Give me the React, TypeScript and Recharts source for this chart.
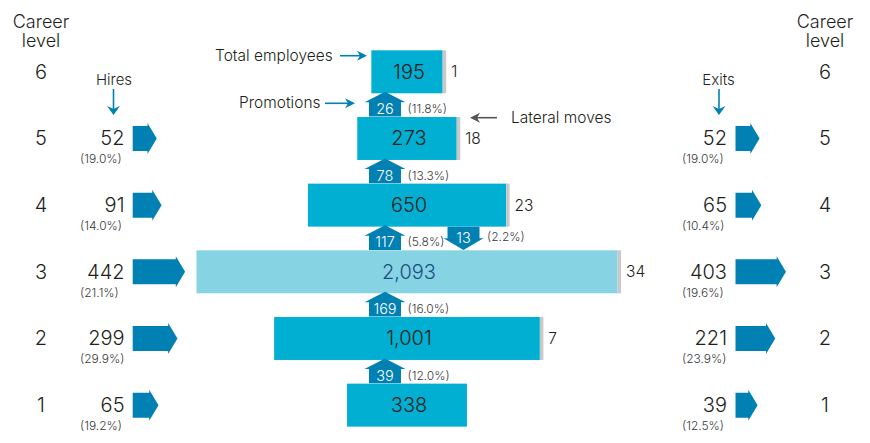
import { ComposedChart, Bar, XAxis, YAxis } from "recharts";

// career levels, top to bottom
const levels = [6, 5, 4, 3, 2, 1];
const employees = [195, 273, 650, 2093, 1001, 338];
const lateralMoves = [1, 18, 23, 34, 7, 0];
const hires = [null, 52, 91, 442, 299, 65];
const hiresPct = ["", "19.0%", "14.0%", "21.1%", "29.9%", "19.2%"];
const exits = [null, 52, 65, 403, 221, 39];
const exitsPct = ["", "19.0%", "10.4%", "19.6%", "23.9%", "12.5%"];
// promotions into a level from the level below
const promotions = [26, 78, 117, 169, 39, null];
const promotionsPct = ["11.8%", "13.3%", "5.8%", "16.0%", "12.0%", ""];
// moves down to the level below
const demotions = [null, null, 13, null, null, null];
const demotionsPct = ["", "", "2.2%", "", "", ""];

const highlightLevel = 3;

const rows = levels.map((level, i) => ({
  level,
  employees: employees[i],
  lateral: lateralMoves[i],
  hires: hires[i],
  hiresPct: hiresPct[i],
  exits: exits[i],
  exitsPct: exitsPct[i],
  promo: promotions[i],
  promoPct: promotionsPct[i],
  demo: demotions[i],
  demoPct: demotionsPct[i],
}));

const TEXT = "#231f20";
const SUB = "#3a3a3a";
const CYAN = "#00afd1";
const LIGHT = "#86d3e4";
const ARROW = "#0080b3";
const GREY = "#c8c8c8";

const CX = 407; // centre line of the pyramid
const GAP = 23.3; // space between two rows of bars
const PX = 385; // promotion arrows
const DX = 463.5; // down moves
const HX = 132.7; // hires arrows start
const EX = 735.5; // exits arrows start

const CenterShape = (props: any) => {
  const { y, width, height, payload } = props;
  const x0 = CX - width / 2;
  const cy = y + height / 2;
  const hl = payload.level === highlightLevel;
  const bottom = y + height;
  return (
    <g>
      <rect x={x0} y={y} width={width} height={height} fill={hl ? LIGHT : CYAN} />
      {payload.lateral > 0 && (
        <>
          <rect x={x0 + width} y={y} width={3.5} height={height} fill={GREY} />
          <text x={x0 + width + 8.5} y={cy + 5.5} fontSize={15.5} fill={TEXT}>
            {payload.lateral}
          </text>
        </>
      )}
      <text x={CX + 2} y={cy + 7} textAnchor="middle" fontSize={20} fill={hl ? "#1c4e80" : TEXT}>
        {payload.employees.toLocaleString("en-US")}
      </text>
      {payload.promo != null && (
        <g>
          <polygon
            points={[
              [PX, bottom - 1.5],
              [PX + 20.5, bottom + 9],
              [PX + 16, bottom + 9],
              [PX + 16, bottom + GAP],
              [PX - 16, bottom + GAP],
              [PX - 16, bottom + 9],
              [PX - 20.5, bottom + 9],
            ].map((p) => p.join(",")).join(" ")}
            fill={ARROW}
          />
          <text x={PX} y={bottom + GAP - 2.5} textAnchor="middle" fontSize={14.5} fill="#fff">
            {payload.promo}
          </text>
          <text x={407.5} y={bottom + GAP - 3.5} fontSize={12} fill={SUB}>
            ({payload.promoPct})
          </text>
        </g>
      )}
      {payload.demo != null && (
        <g>
          <polygon
            points={[
              [DX - 16, bottom],
              [DX + 16, bottom],
              [DX + 16, bottom + GAP - 11.7],
              [DX + 20, bottom + GAP - 11.7],
              [DX, bottom + GAP],
              [DX - 20, bottom + GAP - 11.7],
              [DX - 16, bottom + GAP - 11.7],
            ].map((p) => p.join(",")).join(" ")}
            fill={ARROW}
          />
          <text x={DX} y={bottom + GAP - 7.4} textAnchor="middle" fontSize={14.5} fill="#fff">
            {payload.demo}
          </text>
          <text x={487} y={bottom + GAP - 9} fontSize={12} fill={SUB}>
            ({payload.demoPct})
          </text>
        </g>
      )}
    </g>
  );
};

const flowArrow = (x0: number, w: number, cy: number) => {
  const tip = 9.3;
  return [
    [x0, cy - 12.5],
    [x0 + w, cy - 12.5],
    [x0 + w, cy - 15.5],
    [x0 + w + tip, cy],
    [x0 + w, cy + 15.5],
    [x0 + w, cy + 12.5],
    [x0, cy + 12.5],
  ].map((p) => p.join(",")).join(" ");
};

const makeFlowShape = (key: "hires" | "exits", startX: number, valueX: number, pctX: number) => (props: any) => {
  const { y, width, height, payload } = props;
  if (payload[key] == null) return <g />;
  const cy = y + height / 2;
  return (
    <g>
      <polygon points={flowArrow(startX, width, cy)} fill={ARROW} />
      <text x={valueX} y={cy + 7} textAnchor="end" fontSize={20} fill={TEXT}>
        {payload[key]}
      </text>
      <text x={pctX} y={cy + 25} fontSize={12} fill={SUB}>
        ({payload[key + "Pct"]})
      </text>
    </g>
  );
};

const HireShape = makeFlowShape("hires", HX, 124.5, 80);
const ExitShape = makeFlowShape("exits", EX, 727, 682);

const levelTick = (cx: number) => (props: any) => (
  <text x={cx} y={props.y + 7} textAnchor="middle" fontSize={20} fill={TEXT}>
    {props.payload.value}
  </text>
);

const arrowRight = (x1: number, x2: number, y: number, color: string) => (
  <g>
    <line x1={x1} y1={y} x2={x2 - 4} y2={y} stroke={color} strokeWidth={1.6} />
    <polygon points={`${x2 - 10},${y - 5} ${x2},${y} ${x2 - 10},${y + 5} ${x2 - 7},${y}`} fill={color} />
  </g>
);

const arrowLeft = (x1: number, x2: number, y: number, color: string) => (
  <g>
    <line x1={x1} y1={y} x2={x2 + 4} y2={y} stroke={color} strokeWidth={1.6} />
    <polygon points={`${x2 + 10},${y - 5} ${x2},${y} ${x2 + 10},${y + 5} ${x2 + 7},${y}`} fill={color} />
  </g>
);

const arrowDown = (x: number, y1: number, y2: number, color: string) => (
  <g>
    <line x1={x} y1={y1} x2={x} y2={y2 - 4} stroke={color} strokeWidth={1.6} />
    <polygon points={`${x - 6.5},${y2 - 9} ${x},${y2} ${x + 6.5},${y2 - 9} ${x},${y2 - 6}`} fill={color} />
  </g>
);

export default function App() {
  return (
    <div
      style={{
        position: "fixed",
        left: 0,
        top: 0,
        width: 870,
        height: 443,
        background: "#fff",
        fontFamily: "Inter, sans-serif",
        fontWeight: 300,
      }}
    >
      <ComposedChart
        width={870}
        height={443}
        data={rows}
        layout="vertical"
        margin={{ top: 38.3, right: 0, bottom: 4.7, left: 0 }}
      >
        <XAxis xAxisId="c" type="number" scale="sqrt" domain={[56, 5031]} hide />
        <XAxis xAxisId="h" type="number" scale="sqrt" domain={[0, 115900]} hide />
        <XAxis xAxisId="e" type="number" scale="sqrt" domain={[0, 115900]} hide />
        <YAxis
          yAxisId="c"
          type="category"
          dataKey="level"
          orientation="left"
          width={82}
          axisLine={false}
          tickLine={false}
          tick={levelTick(41)}
        />
        <YAxis
          yAxisId="e"
          type="category"
          dataKey="level"
          orientation="right"
          width={90}
          axisLine={false}
          tickLine={false}
          tick={levelTick(825)}
        />
        <YAxis yAxisId="h" type="category" dataKey="level" hide />
        <Bar xAxisId="c" yAxisId="c" dataKey="employees" barSize={43} shape={CenterShape} isAnimationActive={false} />
        <Bar xAxisId="h" yAxisId="h" dataKey="hires" barSize={25} shape={HireShape} isAnimationActive={false} />
        <Bar xAxisId="e" yAxisId="e" dataKey="exits" barSize={25} shape={ExitShape} isAnimationActive={false} />
      </ComposedChart>
      <svg
        width={870}
        height={443}
        style={{ position: "absolute", left: 0, top: 0, pointerEvents: "none" }}
      >
        <g fontSize={18} fill={TEXT} textAnchor="middle">
          <text x={41} y={27.5}>Career</text>
          <text x={41} y={46.5}>level</text>
          <text x={825} y={27.5}>Career</text>
          <text x={825} y={46.5}>level</text>
        </g>
        <g fontSize={15} fill={TEXT}>
          <text x={114} y={85} textAnchor="middle">Hires</text>
          <text x={718.5} y={85} textAnchor="middle">Exits</text>
          <text x={215} y={60.7} fontSize={15.5}>Total employees</text>
          <text x={239} y={107.7} fontSize={15.5}>Promotions</text>
          <text x={511} y={122.7} fontSize={15.5}>Lateral moves</text>
        </g>
        {arrowDown(113.5, 89, 115, ARROW)}
        {arrowDown(719, 89, 115, ARROW)}
        {arrowRight(340, 367, 55.7, ARROW)}
        {arrowRight(325, 355, 103.3, ARROW)}
        {arrowLeft(497, 470, 117.7, "#555")}
      </svg>
    </div>
  );
}
